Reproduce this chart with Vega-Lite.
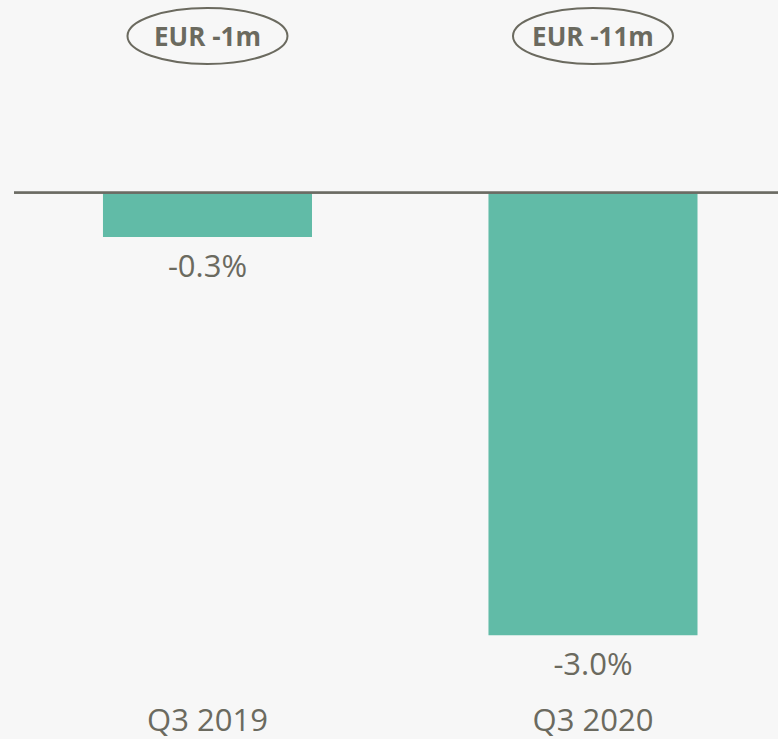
{
  "$schema": "https://vega.github.io/schema/vega-lite/v6.json",
  "autosize": "none",
  "padding": {"left": 14, "top": 0, "right": 0, "bottom": 39},
  "width": 764,
  "height": 700,
  "background": "#f7f7f7",
  "config": {
    "view": {"stroke": null},
    "font": "Open Sans",
    "axis": {"grid": false}
  },
  "data": {
    "values": [
      {"q": "Q3 2019", "v": -0.3, "label": "-0.3%", "eur": "EUR -1m"},
      {"q": "Q3 2020", "v": -3.0, "label": "-3.0%", "eur": "EUR -11m"}
    ]
  },
  "encoding": {
    "x": {
      "field": "q",
      "type": "nominal",
      "sort": null,
      "scale": {"paddingInner": 0.4578, "paddingOuter": 0.2198, "align": 0.525},
      "axis": {
        "orient": "bottom",
        "title": null,
        "domain": false,
        "ticks": false,
        "labelAngle": 0,
        "labelFontSize": 31,
        "labelColor": "#6b6a5f",
        "labelFont": "Open Sans",
        "labelPadding": 6
      }
    }
  },
  "layer": [
    {
      "mark": {"type": "bar", "color": "#61bba7"},
      "encoding": {
        "y": {
          "field": "v",
          "type": "quantitative",
          "scale": {"domain": [-3.4393, 1.3064], "nice": false, "zero": false},
          "axis": null
        },
        "y2": {"datum": 0}
      }
    },
    {
      "mark": {"type": "rule", "color": "#6b6b63", "strokeWidth": 2.3},
      "encoding": {
        "x": null,
        "y": {"datum": 0, "type": "quantitative"}
      }
    },
    {
      "mark": {"type": "text", "fontSize": 31, "color": "#6b6a5f", "baseline": "middle", "dy": 31},
      "encoding": {
        "y": {"field": "v", "type": "quantitative"},
        "text": {"field": "label"}
      }
    },
    {
      "mark": {
        "type": "point",
        "shape": "M -1 0 C -1 -0.193 -0.552 -0.35 0 -0.35 C 0.552 -0.35 1 -0.193 1 0 C 1 0.193 0.552 0.35 0 0.35 C -0.552 0.35 -1 0.193 -1 0 Z",
        "size": 25600,
        "filled": false,
        "stroke": "#6b6a5f",
        "strokeWidth": 2,
        "opacity": 1
      },
      "encoding": {
        "y": {"datum": 1.0624, "type": "quantitative"}
      }
    },
    {
      "mark": {"type": "text", "fontSize": 26, "fontWeight": "bold", "color": "#6b6a5f", "baseline": "middle", "dy": 2},
      "encoding": {
        "y": {"datum": 1.0624, "type": "quantitative"},
        "text": {"field": "eur"}
      }
    }
  ]
}
